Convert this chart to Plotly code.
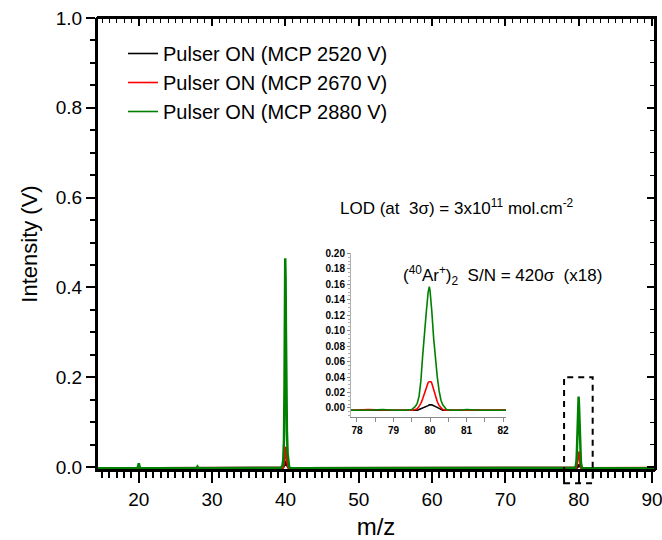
import plotly.graph_objects as go

# ---------------- data ----------------
mz = [14.3, 16.0, 18.0, 19.8, 19.93, 20.0, 20.07, 20.2, 22.0, 25.0, 27.85, 28.0, 28.15,
      30.0, 33.0, 36.0, 38.0, 39.3, 39.5, 39.6, 39.7, 39.8, 39.87, 39.92, 39.97, 40.02,
      40.07, 40.12, 40.2, 40.3, 40.4, 40.5, 40.7, 41.0, 45.0, 50.0, 55.0, 60.0, 65.0,
      70.0, 75.0, 77.9, 78.3, 78.7, 79.0, 79.3, 79.5, 79.6, 79.65, 79.7, 79.75, 79.8,
      79.85, 79.9, 79.95, 79.98, 80.0, 80.03, 80.05, 80.1, 80.15, 80.2, 80.25, 80.3,
      80.35, 80.45, 80.6, 80.8, 81.0, 81.4, 81.8, 82.1, 85.0, 88.0, 90.0, 90.4]

mcp_2520 = [-0.003, -0.003, -0.003, -0.003, -0.002, -0.001, -0.002, -0.003, -0.003, -0.003, -0.003, -0.003, -0.003,
            -0.003, -0.003, -0.003, -0.003, -0.003, -0.003, -0.002, 0.000, 0.003, 0.006, 0.009, 0.010, 0.010,
            0.009, 0.007, 0.004, 0.001, -0.001, -0.003, -0.003, -0.003, -0.003, -0.003, -0.003, -0.003, -0.003,
            -0.003, -0.003, -0.003, -0.003, -0.003, -0.003, -0.003, -0.003, -0.003, -0.003, -0.002, -0.001, -0.001,
            0.000, 0.002, 0.003, 0.004, 0.004, 0.004, 0.004, 0.003, 0.002, 0.000, -0.001, -0.002,
            -0.003, -0.003, -0.003, -0.003, -0.003, -0.003, -0.003, -0.003, -0.003, -0.003, -0.003, -0.003]

mcp_2670 = [-0.003, -0.003, -0.003, -0.003, -0.002, -0.001, -0.002, -0.003, -0.003, -0.003, -0.003, -0.003, -0.003,
            -0.003, -0.003, -0.003, -0.003, -0.003, -0.003, -0.002, 0.001, 0.008, 0.018, 0.030, 0.040, 0.045,
            0.042, 0.033, 0.018, 0.006, 0.000, -0.003, -0.003, -0.003, -0.003, -0.003, -0.003, -0.003, -0.003,
            -0.003, -0.003, -0.003, -0.002, -0.003, -0.003, -0.003, -0.003, -0.002, -0.001, 0.002, 0.006, 0.012,
            0.020, 0.028, 0.033, 0.034, 0.034, 0.034, 0.032, 0.023, 0.015, 0.008, 0.003, 0.000,
            -0.002, -0.003, -0.003, -0.003, -0.003, -0.003, -0.003, -0.003, -0.003, -0.003, -0.003, -0.002]

mcp_2880 = [-0.003, -0.003, -0.003, -0.003, 0.003, 0.008, 0.003, -0.003, -0.003, -0.003, -0.003, 0.001, -0.003,
            -0.003, -0.003, -0.003, -0.003, -0.002, 0.000, 0.004, 0.015, 0.060, 0.180, 0.330, 0.465, 0.420,
            0.300, 0.190, 0.080, 0.030, 0.008, 0.000, -0.003, -0.003, -0.003, -0.003, -0.003, -0.003, -0.003,
            -0.003, -0.003, -0.003, -0.003, -0.002, -0.003, -0.003, -0.002, 0.002, 0.006, 0.015, 0.035, 0.068,
            0.100, 0.125, 0.150, 0.157, 0.152, 0.140, 0.125, 0.090, 0.060, 0.040, 0.022, 0.010,
            0.004, -0.002, -0.003, -0.003, -0.002, -0.003, -0.003, -0.003, -0.003, -0.003, -0.002, 0.001]

series_names = ["Pulser ON (MCP 2520 V)", "Pulser ON (MCP 2670 V)", "Pulser ON (MCP 2880 V)"]
series_values = [mcp_2520, mcp_2670, mcp_2880]
series_colors = ["#000000", "#ff0000", "#008000"]
# main-panel subplot for each series: the last one sits on the top/right frame subplot
main_axes = [("x", "y"), ("x", "y"), ("x2", "y2")]

x_range = [14.3, 90.4]
y_range = [-0.0067, 1.0]
inset_x_range = [77.836, 82.082]
inset_y_range = [-0.0117, 0.2005]
box_x = [78.0, 81.9]
box_y = [-0.036, 0.2]

FONT = "Arial, Liberation Sans, sans-serif"

fig = go.Figure()

# main traces
for name, vals, col, (xa, ya) in zip(series_names, series_values, series_colors, main_axes):
    fig.add_trace(go.Scatter(x=mz, y=vals, mode="lines", name=name, showlegend=False,
                             line=dict(color=col, width=2.5), xaxis=xa, yaxis=ya))
# inset traces (carry the legend)
for name, vals, col in zip(series_names, series_values, series_colors):
    fig.add_trace(go.Scatter(x=mz, y=vals, mode="lines", name=name, showlegend=True,
                             line=dict(color=col, width=1.6), xaxis="x3", yaxis="y3"))

# plot area in pixels
W, H = 662, 540
L, R, T, B = 97, 7, 18, 70
pw, ph = W - L - R, H - T - B

def to_paper_x(v):
    return (v - x_range[0]) / (x_range[1] - x_range[0])

def to_paper_y(v):
    return (v - y_range[0]) / (y_range[1] - y_range[0])

# frame of the main panel
fig.add_shape(type="rect", xref="paper", yref="paper", x0=0, x1=1, y0=0, y1=1,
              line=dict(color="black", width=2), layer="above")

# dashed box around the (40Ar+)2 peak
fig.add_shape(type="rect", xref="paper", yref="paper",
              x0=to_paper_x(box_x[0]), x1=to_paper_x(box_x[1]),
              y0=to_paper_y(box_y[0]), y1=to_paper_y(box_y[1]),
              line=dict(color="black", width=2, dash="6px,5px"), layer="above")

axis_common = dict(showgrid=False, zeroline=False, showline=True, linecolor="black", linewidth=2,
                   tickcolor="black")

fig.update_layout(
    width=W, height=H,
    margin=dict(l=L, r=R, t=T, b=B, autoexpand=False),
    paper_bgcolor="white", plot_bgcolor="rgba(0,0,0,0)",
    font=dict(family=FONT, color="black"),
    xaxis=dict(**axis_common, domain=[0, 1], anchor="y", range=x_range, tick0=0, dtick=10, ticks="outside",
               ticklen=11, tickwidth=2, tickfont=dict(size=19), ticklabeloverflow="allow",
               minor=dict(dtick=1, ticks="outside", ticklen=6, tickwidth=1.5, tickcolor="black"),
               title=dict(text="m/z", font=dict(size=24), standoff=10)),
    yaxis=dict(**axis_common, domain=[0, 1], anchor="x", range=y_range, tick0=0, dtick=0.2, tickformat=".1f",
               ticks="outside", ticklen=9, tickwidth=2, tickfont=dict(size=19),
               minor=dict(dtick=0.05, tick0=0, ticks="outside", ticklen=5, tickwidth=1.5, tickcolor="black"),
               title=dict(text="Intensity (V)", font=dict(size=22), standoff=12)),
    xaxis2=dict(**axis_common, domain=[0, 1], side="top", anchor="y2", range=x_range, tick0=0, dtick=10,
                ticks="inside", ticklen=8, tickwidth=1.5, showticklabels=False,
                minor=dict(dtick=1, ticks="inside", ticklen=5, tickwidth=1.2, tickcolor="black")),
    yaxis2=dict(**axis_common, domain=[0, 1], side="right", anchor="x2", range=y_range, tick0=0, dtick=0.2,
                ticks="inside", ticklen=8, tickwidth=1.5, showticklabels=False,
                minor=dict(dtick=0.05, tick0=0, ticks="inside", ticklen=5, tickwidth=1.2, tickcolor="black")),
    xaxis3=dict(showgrid=False, zeroline=False, showline=True, linecolor="#8a8a8a", linewidth=1,
                domain=[(351 - L) / pw, (506 - L) / pw], anchor="y3", range=inset_x_range,
                tick0=0, dtick=1, ticks="outside", ticklen=4, tickwidth=1, tickcolor="#8a8a8a",
                minor=dict(dtick=0.5, ticks="outside", ticklen=4, tickwidth=1, tickcolor="#8a8a8a"),
                tickfont=dict(size=10, weight="bold")),
    yaxis3=dict(showgrid=False, zeroline=False, showline=True, linecolor="#b0b0b0", linewidth=1,
                domain=[(H - B - 417) / ph, (H - B - 253) / ph], anchor="x3", range=inset_y_range,
                tick0=0, dtick=0.02, tickformat=".2f", ticks="outside", ticklen=3, tickwidth=1,
                tickcolor="#8a8a8a",
                minor=dict(dtick=0.005, tick0=0, ticks="outside", ticklen=2, tickwidth=1, tickcolor="#b0b0b0"),
                tickfont=dict(size=10, weight="bold")),
    legend=dict(x=(123 - L) / pw, y=(H - B - 34) / ph, xanchor="left", yanchor="top",
                bgcolor="rgba(0,0,0,0)", font=dict(size=20), tracegroupgap=0),
    showlegend=True,
)

fig.add_annotation(xref="paper", yref="paper", x=(457 - L) / pw, y=(H - B - 207) / ph,
                   text="LOD (at  3σ) = 3x10<sup>11</sup> mol.cm<sup>-2</sup>", showarrow=False,
                   font=dict(size=17), xanchor="center", yanchor="middle")
fig.add_annotation(xref="paper", yref="paper", x=(502 - L) / pw, y=(H - B - 275) / ph,
                   text="(<sup>40</sup>Ar<sup>+</sup>)<sub>2</sub>  S/N = 420σ  (x18)", showarrow=False,
                   font=dict(size=17), xanchor="center", yanchor="middle")

fig.write_html("out.html", config={"displayModeBar": False},
               post_script="document.body.style.margin='0';")
